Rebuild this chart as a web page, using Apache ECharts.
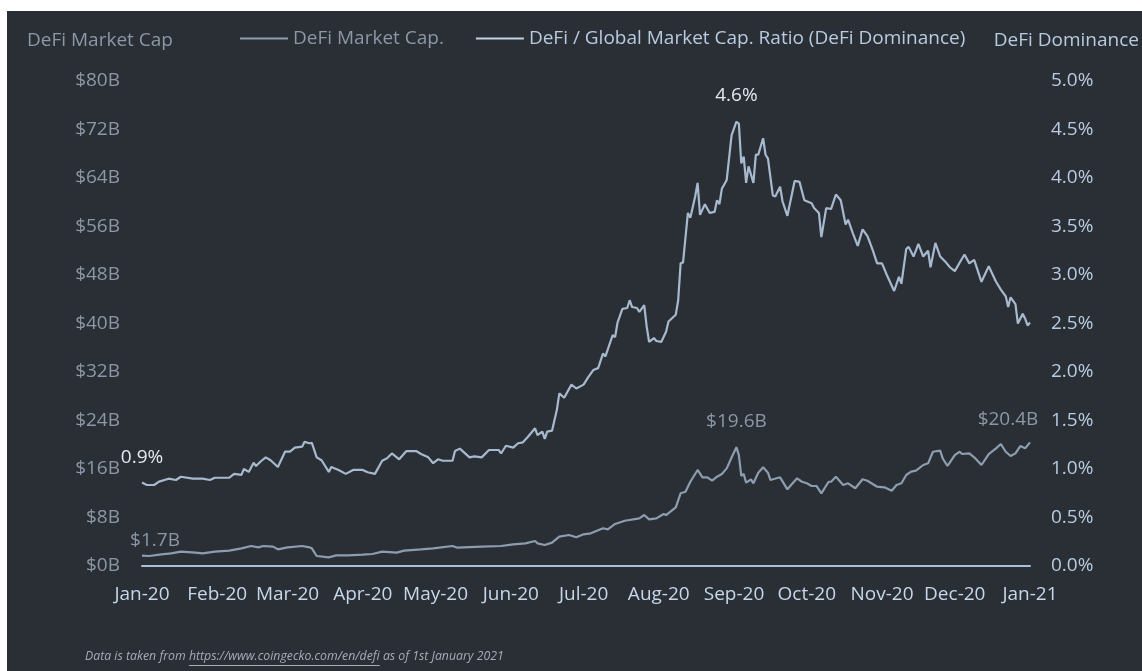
<!DOCTYPE html>
<html>
<head>
<meta charset="utf-8">
<script src="https://cdn.jsdelivr.net/npm/echarts@6/dist/echarts.min.js"></script>
<style>
  html, body { margin: 0; padding: 0; background: #ffffff; }
  #chart { position: absolute; left: 7px; top: 11px; width: 1135px; height: 660px; }
</style>
</head>
<body>
<div id="chart"></div>
<script>
// x positions are days since 1 Jan 2020
var domDays = [0, 2, 5, 7, 11, 14, 16, 21, 25, 28, 30, 36, 38, 41, 42, 44, 46, 47, 49, 51, 53, 56, 59, 61, 63, 66, 67, 69, 70, 72, 74, 77, 78, 81, 84, 87,
  91, 93, 96, 99, 101, 103, 106, 109, 113, 115, 118, 120, 122, 124, 128, 129, 131, 135, 137, 140, 143, 147, 148, 150, 153, 155, 157, 159, 162, 163, 165, 166, 167, 169,
  171, 172, 174, 177, 179, 182, 184, 186, 188, 190, 191, 194, 195, 196, 198, 200, 201, 202, 204, 205, 207, 208, 209, 211, 212, 214, 216, 217, 220, 221, 222, 223,
  225, 226, 228, 229, 230, 232, 234, 236, 237, 238, 239, 241, 243, 245, 246, 247, 248, 249, 250, 252, 253, 254, 256, 257, 258, 260, 261, 263, 264, 266, 269,
  271, 273, 274, 276, 277, 279, 280, 282, 284, 286, 288, 290, 291, 293, 295, 297, 299, 301, 303, 305, 307, 310, 312, 313, 315, 316, 318, 320, 322, 324, 325,
  327, 329, 331, 333, 335, 338, 339, 341, 343, 346, 349, 352, 354, 356, 357, 358, 360, 361, 363, 364, 365, 366];
// DeFi / global market cap ratio, %
var domValues = [0.86, 0.835, 0.835, 0.87, 0.90, 0.887, 0.92, 0.90, 0.90, 0.887, 0.91, 0.91, 0.95, 0.94, 1.0, 0.97, 1.065, 1.03, 1.08, 1.12, 1.09, 1.02, 1.18, 1.18, 1.22, 1.23, 1.28, 1.265, 1.27, 1.12, 1.09, 0.97, 1.02, 0.99, 0.95, 0.99,
  0.99, 0.966, 0.95, 1.085, 1.11, 1.16, 1.10, 1.185, 1.185, 1.155, 1.12, 1.06, 1.10, 1.085, 1.085, 1.185, 1.21, 1.12, 1.13, 1.12, 1.196, 1.196, 1.16, 1.24, 1.22, 1.265, 1.275, 1.33, 1.42, 1.35, 1.385, 1.31, 1.385, 1.395,
  1.61, 1.78, 1.735, 1.87, 1.83, 1.87, 1.95, 2.02, 2.04, 2.19, 2.16, 2.38, 2.36, 2.51, 2.65, 2.66, 2.74, 2.67, 2.66, 2.62, 2.69, 2.47, 2.31, 2.35, 2.32, 2.31, 2.415, 2.52, 2.59, 2.74, 3.12, 3.13,
  3.64, 3.59, 3.81, 3.95, 3.62, 3.73, 3.64, 3.65, 3.77, 3.73, 3.89, 3.98, 4.44, 4.58, 4.56, 4.15, 4.22, 3.95, 4.12, 3.95, 4.24, 4.24, 4.41, 4.24, 4.20, 3.82, 3.81, 3.91, 3.76, 3.61, 3.97,
  3.96, 3.77, 3.76, 3.74, 3.69, 3.64, 3.39, 3.69, 3.68, 3.83, 3.77, 3.52, 3.57, 3.43, 3.30, 3.47, 3.40, 3.27, 3.12, 3.12, 3.00, 2.835, 2.98, 2.91, 3.27, 3.29, 3.19, 3.32, 3.19, 3.25, 3.08,
  3.33, 3.19, 3.14, 3.08, 3.04, 3.17, 3.21, 3.12, 3.155, 2.93, 3.09, 2.93, 2.85, 2.78, 2.67, 2.77, 2.70, 2.50, 2.60, 2.55, 2.48, 2.51];

var capDays = [0, 3, 8, 12, 16, 22, 25, 30, 36, 41, 45, 48, 50, 54, 56, 60, 66, 69, 70, 72, 77, 80, 85, 91, 95, 99, 105, 108, 115, 120, 128, 130, 140, 148, 153, 158,
  162, 163, 166, 169, 172, 176, 179, 182, 185, 190, 192, 195, 199, 205, 207, 209, 212, 215, 216, 220, 222, 224, 226, 229, 231, 233, 235, 237, 239, 241, 243, 245,
  246, 247, 248, 249, 251, 252, 254, 256, 258, 259, 263, 266, 270, 272, 274, 276, 278, 280, 283, 284, 286, 289, 291, 294, 297, 299, 303, 306, 309, 311, 313, 315,
  317, 319, 322, 324, 326, 329, 330, 332, 335, 337, 338, 341, 343, 346, 349, 352, 354, 356, 358, 360, 362, 364, 366];
// DeFi market cap, $ billions
var capValues = [1.7, 1.65, 1.93, 2.09, 2.36, 2.2, 2.09, 2.36, 2.53, 2.91, 3.3, 3.08, 3.3, 3.19, 2.75, 3.08, 3.3, 3.08, 2.91, 1.65, 1.43, 1.76, 1.76, 1.87, 1.98, 2.36, 2.2, 2.53, 2.75, 2.91, 3.3, 3.02, 3.19, 3.3, 3.58, 3.74,
  4.12, 3.74, 3.46, 3.85, 4.84, 5.11, 4.73, 5.23, 5.39, 6.22, 6.05, 6.93, 7.47, 7.86, 8.41, 7.7, 7.86, 8.58, 8.41, 9.67, 11.99, 12.26, 13.9, 15.84, 14.63, 14.63, 14.07, 14.73, 15.18, 16.1, 17.9, 19.6,
  18.3, 14.85, 15.18, 13.74, 14.3, 13.64, 15.39, 16.28, 15.39, 14.19, 14.63, 12.65, 14.47, 13.9, 13.64, 13.2, 13.2, 11.99, 13.9, 13.9, 14.73, 13.36, 13.64, 12.82, 14.3, 14.07, 13.08, 12.98, 12.42, 13.36, 13.64, 15.01,
  15.56, 15.72, 16.66, 16.94, 18.85, 19.02, 17.76, 16.5, 18.3, 18.85, 18.47, 18.58, 17.93, 16.66, 18.47, 19.41, 20.12, 18.85, 18.14, 18.58, 19.79, 19.41, 20.4];

// month starts, in days since 1 Jan 2020
var monthDays = [0, 31, 60, 91, 121, 152, 182, 213, 244, 274, 305, 335, 366];
var monthLabels = ['Jan-20', 'Feb-20', 'Mar-20', 'Apr-20', 'May-20', 'Jun-20', 'Jul-20', 'Aug-20', 'Sep-20', 'Oct-20', 'Nov-20', 'Dec-20', 'Jan-21'];

// days whose values are written on the chart (start, September peak, end)
var capLabelDays = [0, 245, 366];
var domLabelDays = [0, 245];

var capName = 'DeFi Market Cap.';
var domName = 'DeFi / Global Market Cap. Ratio (DeFi Dominance)';

var FONT = '"Open Sans", "Noto Sans", sans-serif';
var capColor = '#8d9db0';
var domColor = '#a6b9cf';
var greyText = '#8c98a6';
var blueText = '#b8cbe1';

// label nudges, keyed by day
var capOffsets = { 0: [13, 0], 245: [0, -11], 366: [-22, -8] };
var domOffsets = { 0: [0, -10], 245: [0, -11] };

// annotated points get an invisible symbol to carry a label
function buildData(days, values, labelDays, offsets, fmt, color) {
  return days.map(function (d, i) {
    var item = { value: [d, values[i]] };
    if (labelDays.indexOf(d) >= 0) {
      item.symbol = 'circle';
      item.symbolSize = 1;
      item.itemStyle = { color: 'rgba(0,0,0,0)' };
      item.label = {
        show: true,
        position: 'top',
        distance: 5,
        offset: offsets[d],
        formatter: fmt(values[i]),
        color: color,
        opacity: 1,
        fontSize: 19,
        fontFamily: FONT
      };
    }
    return item;
  });
}

var chart = echarts.init(document.getElementById('chart'));

var option = {
  animation: false,
  backgroundColor: '#2a2e35',
  textStyle: { fontFamily: FONT },
  grid: { left: 135, right: 112, top: 70, bottom: 105 },
  legend: {
    left: 228,
    top: 13,
    itemWidth: 48,
    itemHeight: 2,
    itemGap: 32,
    icon: 'rect',
    data: [
      { name: capName, textStyle: { color: greyText } },
      { name: domName, textStyle: { color: blueText } }
    ],
    textStyle: { fontSize: 19, fontFamily: FONT }
  },
  xAxis: {
    type: 'value',
    min: 0,
    max: 366,
    axisLine: { show: true, lineStyle: { color: '#a9c0da', width: 2 } },
    axisTick: { show: false },
    splitLine: { show: false },
    axisLabel: {
      customValues: monthDays,
      formatter: function (v) {
        var i = monthDays.indexOf(v);
        return i >= 0 ? monthLabels[i] : '';
      },
      color: '#c6d7ea',
      fontSize: 19,
      fontFamily: FONT,
      margin: 19,
      showMinLabel: true,
      showMaxLabel: true
    }
  },
  yAxis: [{
    type: 'value',
    min: 0,
    max: 80,
    interval: 8,
    axisLine: { show: false },
    axisTick: { show: false },
    splitLine: { show: false },
    axisLabel: {
      formatter: function (v) { return '$' + v + 'B'; },
      color: greyText,
      fontSize: 19,
      fontFamily: FONT,
      margin: 22
    }
  }, {
    type: 'value',
    min: 0,
    max: 5,
    interval: 0.5,
    axisLine: { show: false },
    axisTick: { show: false },
    splitLine: { show: false },
    axisLabel: {
      formatter: function (v) { return v.toFixed(1) + '%'; },
      color: blueText,
      fontSize: 19,
      fontFamily: FONT,
      margin: 21
    }
  }],
  series: [{
    name: capName,
    type: 'line',
    yAxisIndex: 0,
    showSymbol: true,
    symbol: 'none',
    lineStyle: { color: capColor, width: 2.2 },
    itemStyle: { color: capColor },
    data: buildData(capDays, capValues, capLabelDays, capOffsets, function (v) { return '$' + v.toFixed(1) + 'B'; }, greyText)
  }, {
    name: domName,
    type: 'line',
    yAxisIndex: 1,
    showSymbol: true,
    symbol: 'none',
    lineStyle: { color: domColor, width: 2.2 },
    itemStyle: { color: '#c3d3e5' },
    data: buildData(domDays, domValues, domLabelDays, domOffsets, function (v) { return v.toFixed(1) + '%'; }, '#e2e9f1')
  }],
  graphic: []
};

// axis titles
option.graphic.push({
  type: 'text', left: 20, top: 20,
  style: { text: 'DeFi Market Cap', fill: greyText, font: '19px ' + FONT }
});
option.graphic.push({
  type: 'text', right: 3, top: 20,
  style: { text: 'DeFi Dominance', fill: blueText, font: '19px ' + FONT }
});

// source note with underlined link
var noteFont = 'italic 12.3px ' + FONT;
var notePre = 'Data is taken from ';
var noteLink = 'https://www.coingecko.com/en/defi';
var notePost = ' as of 1st January 2021';
var ctx = document.createElement('canvas').getContext('2d');
ctx.font = noteFont;
var preW = ctx.measureText(notePre).width;
var linkW = ctx.measureText(noteLink).width;
var noteX = 78, noteY = 639;
option.graphic.push({
  type: 'text', left: noteX, top: noteY,
  style: { text: notePre + noteLink + notePost, fill: '#a3adb8', font: noteFont }
});
option.graphic.push({
  type: 'line',
  shape: { x1: noteX + preW, y1: noteY + 15.5, x2: noteX + preW + linkW, y2: noteY + 15.5 },
  style: { stroke: '#a3adb8', lineWidth: 1 }
});

chart.setOption(option);
</script>
</body>
</html>
